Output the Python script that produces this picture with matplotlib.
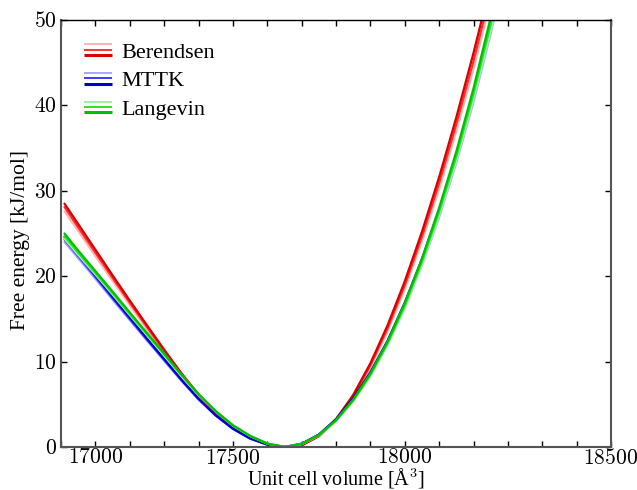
import numpy as np
import matplotlib
matplotlib.use("Agg")
import matplotlib.pyplot as plt
import matplotlib.transforms as mtransforms
from matplotlib.legend_handler import HandlerBase
from matplotlib.lines import Line2D
from matplotlib.ticker import MultipleLocator

plt.rcParams['font.family'] = ['Liberation Serif', 'DejaVu Serif']
plt.rcParams['mathtext.fontset'] = 'cm'

# Unit cell volumes (A^3) where the free energy curves were sampled
volume = [16910, 16950, 17000, 17050, 17100, 17150, 17200, 17250, 17300,
          17350, 17400, 17450, 17500, 17550, 17600, 17650, 17700, 17750,
          17800, 17850, 17900, 17950, 18000, 18050, 18100, 18150, 18200]

# Free energy (kJ/mol), three runs per thermostat (light, medium, dark)
berendsen_light = [27.6, 25.3, 22.35, 19.45, 16.6, 13.8, 11.05, 8.4, 6.0,
                   3.9, 2.25, 1.1, 0.32, 0.02, 0.18, 1.22, 3.05, 5.8,
                   9.3, 13.55, 18.5, 24.1, 30.2, 37.0, 44.3, 52.2, 60.6]
berendsen_medium = [28.1, 25.7, 22.75, 19.8, 16.9, 14.05, 11.25, 8.55, 6.1,
                    3.95, 2.3, 1.12, 0.33, 0.02, 0.19, 1.26, 3.15, 5.95,
                    9.55, 13.9, 18.95, 24.65, 30.9, 37.8, 45.2, 53.2, 61.7]
berendsen_dark = [28.5, 26.1, 23.1, 20.1, 17.15, 14.25, 11.4, 8.65, 6.15,
                  4.0, 2.35, 1.15, 0.35, 0.02, 0.2, 1.3, 3.25, 6.1,
                  9.8, 14.25, 19.4, 25.2, 31.6, 38.6, 46.15, 54.25, 62.85]

mttk_light = [24.0, 22.1, 19.7, 17.25, 14.85, 12.45, 10.1, 7.76, 5.55,
              3.66, 2.11, 0.98, 0.27, 0.0, 0.36, 1.4, 3.13, 5.5,
              8.45, 12.05, 16.35, 21.3, 26.9, 33.3, 40.4, 48.4, 57.0]
mttk_medium = [24.3, 22.35, 19.9, 17.42, 15.0, 12.58, 10.2, 7.83, 5.6,
               3.69, 2.13, 0.99, 0.28, 0.0, 0.37, 1.42, 3.19, 5.6,
               8.6, 12.25, 16.6, 21.65, 27.35, 33.8, 41.0, 49.1, 57.8]
mttk_dark = [24.6, 22.6, 20.1, 17.6, 15.15, 12.7, 10.3, 7.9, 5.65,
             3.72, 2.15, 1.0, 0.28, 0.0, 0.38, 1.45, 3.25, 5.7,
             8.75, 12.45, 16.9, 22.0, 27.8, 34.3, 41.6, 49.8, 58.6]

langevin_light = [24.4, 22.5, 20.2, 17.85, 15.45, 13.1, 10.75, 8.36, 6.1,
                  4.14, 2.51, 1.28, 0.39, 0.0, 0.33, 1.34, 3.03, 5.35,
                  8.3, 11.95, 16.25, 21.35, 27.1, 33.5, 40.7, 48.7, 57.2]
langevin_medium = [24.7, 22.75, 20.4, 18.02, 15.6, 13.22, 10.85, 8.43, 6.15,
                   4.17, 2.53, 1.29, 0.4, 0.0, 0.34, 1.37, 3.09, 5.45,
                   8.45, 12.15, 16.55, 21.7, 27.55, 34.05, 41.35, 49.5, 58.1]
langevin_dark = [25.0, 23.0, 20.6, 18.2, 15.75, 13.35, 10.95, 8.5, 6.2,
                 4.2, 2.55, 1.3, 0.4, 0.0, 0.35, 1.4, 3.15, 5.55,
                 8.6, 12.35, 16.85, 22.05, 28.0, 34.6, 42.0, 50.3, 59.0]

thermostats = ["Berendsen", "MTTK", "Langevin"]
xticks = [17000, 17500, 18000, 18500]
yticks = [0, 10, 20, 30, 40, 50]

runs = {
    "Berendsen": [berendsen_light, berendsen_medium, berendsen_dark],
    "MTTK": [mttk_light, mttk_medium, mttk_dark],
    "Langevin": [langevin_light, langevin_medium, langevin_dark],
}
shades = {
    "Berendsen": ['#ffb4b4', '#ff3030', '#d80000'],
    "MTTK": ['#a8a8ff', '#3c3cff', '#0000c8'],
    "Langevin": ['#a0f0a0', '#30e030', '#00c000'],
}


class ShadeKey:
    """Stand-in legend handle holding the three shades of one thermostat."""
    def __init__(self, colors):
        self.colors = colors


class ShadeKeyHandler(HandlerBase):
    def create_artists(self, legend, orig_handle, xdescent, ydescent,
                       width, height, fontsize, trans):
        artists = []
        for c, lw, f in zip(orig_handle.colors, [1.4, 1.4, 2.2], [0.85, 0.5, 0.15]):
            y = -ydescent + f*height
            ln = Line2D([-xdescent, -xdescent + width], [y, y], color=c, lw=lw,
                        solid_capstyle='butt')
            ln.set_transform(trans)
            artists.append(ln)
        return artists


fig = plt.figure(figsize=(6.37, 4.9), dpi=100)
ax = fig.add_axes([0.0958, 0.0878, 0.8634, 0.8714])

for name in thermostats:
    for F, c in zip(runs[name], shades[name]):
        ax.plot(volume, F, color=c, lw=1.6, solid_capstyle='round')

ax.set_xlim(16900, 18500)
ax.set_ylim(0, 50)
ax.set_xticks(xticks)
ax.set_xticklabels([f'${v}$' for v in xticks])
ax.set_yticks(yticks)
ax.set_yticklabels([f'${v}$' for v in yticks])
ax.xaxis.set_minor_locator(MultipleLocator(100))
ax.tick_params(which='both', direction='in', top=True, right=True,
               length=4, width=1, labelsize=15.5, color='black')
ax.tick_params(axis='x', pad=1.5)
ax.tick_params(axis='y', pad=3)

# the two inner volume labels sit one minor step to the left
for lbl, dx in zip(ax.get_xticklabels(), [0, -0.344, -0.344, 0]):
    lbl.set_transform(lbl.get_transform()
                      + mtransforms.ScaledTranslation(dx, 0, fig.dpi_scale_trans))

for side in ['left', 'bottom', 'right']:
    ax.spines[side].set_color('#555555')
    ax.spines[side].set_linewidth(1.5)
ax.spines['top'].set_color('black')
ax.spines['top'].set_linewidth(1.0)

ax.set_xlabel('Unit cell volume [Å$^3$]', fontsize=14.5, labelpad=-2.2)
ax.set_ylabel('Free energy [kJ/mol]', fontsize=15.5)
ax.yaxis.set_label_coords(-0.056, 0.485)

handles = [ShadeKey(shades[n]) for n in thermostats]
ax.legend(handles, thermostats, handler_map={ShadeKey: ShadeKeyHandler()},
          loc='upper left', bbox_to_anchor=(0.026, 0.969), frameon=False,
          fontsize=16, handlelength=1.25, handletextpad=0.42,
          labelspacing=0.36, borderaxespad=0.0)

fig.savefig('out.png', dpi=100)
